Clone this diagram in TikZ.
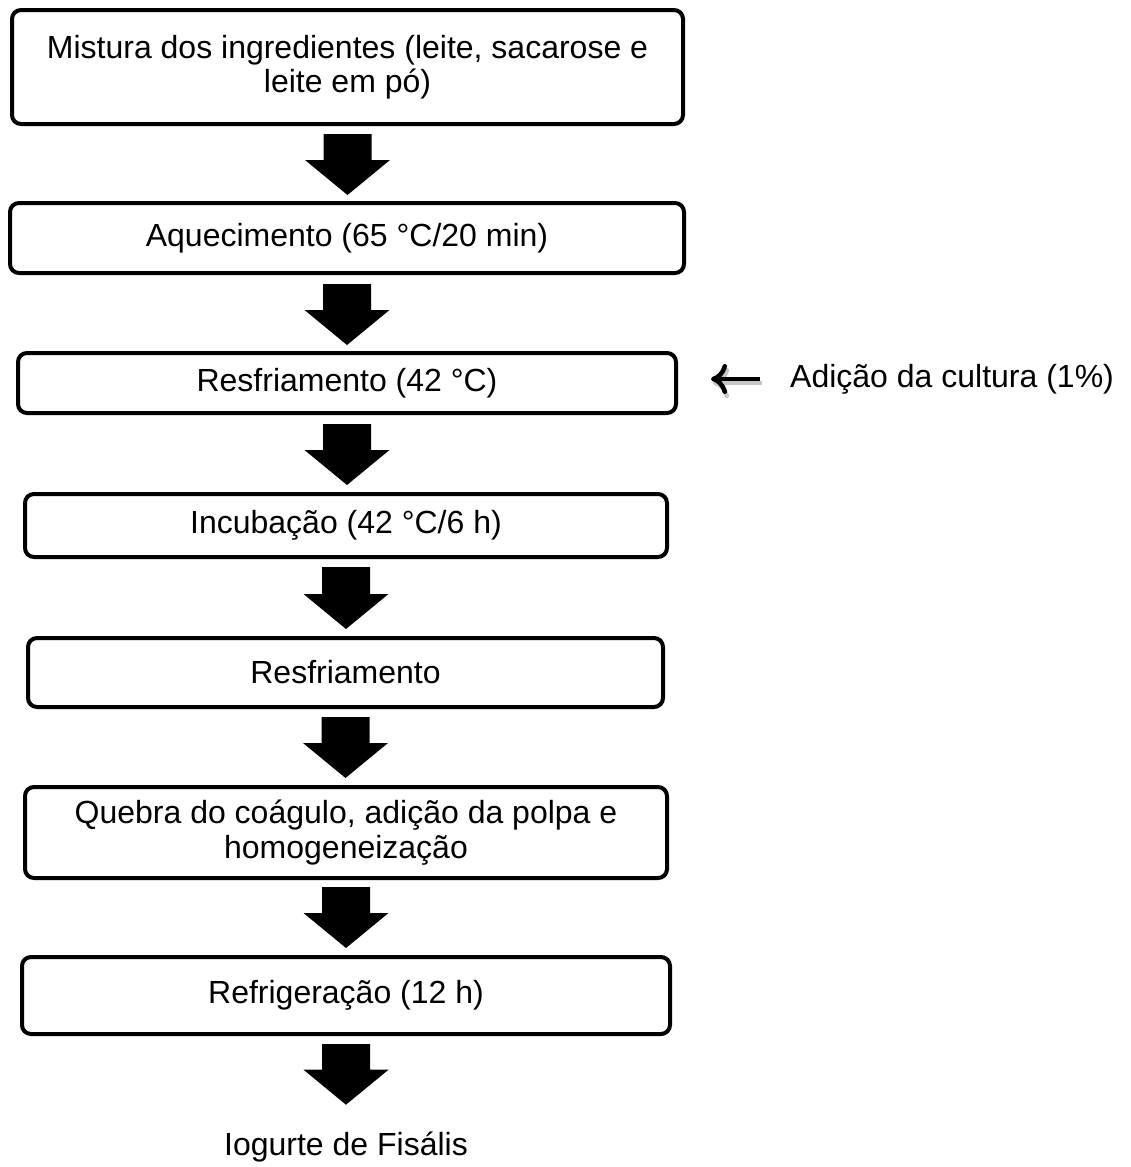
\documentclass[tikz,border=0pt]{standalone}
\usepackage{fontspec}
\setmainfont{Liberation Sans}
\usetikzlibrary{calc,arrows.meta}
\tikzset{
  txt/.style={font=\fontsize{32}{34.5}\selectfont, inner sep=0pt, align=center},
  stepbox/.style={txt, draw=black, line width=4pt, rounded corners=9pt, fill=white},
  sidearrow/.style={line width=4.5pt, -{To[length=16pt,width=30pt]}},
}
\newcommand\flowarrow[2]{%
  \fill[black] let \p1=#1, \p2=#2 in
    (\x1-24pt,\y1) -- (\x1+24pt,\y1) -- (\x1+24pt,\y2+35pt) -- (\x1+42.5pt,\y2+35pt)
    -- (\x1,\y2) -- (\x1-42.5pt,\y2+35pt) -- (\x1-24pt,\y2+35pt) -- cycle;}
\begin{document}
\begin{tikzpicture}[x=1pt,y=1pt]
\useasboundingbox (0,0) rectangle (1130,-1167);
\node[stepbox, minimum width=671pt, minimum height=114pt] (b1) at (347.5,-67)
  {Mistura dos ingredientes (leite, sacarose e\\ leite em pó)};
\node[stepbox, minimum width=674pt, minimum height=70pt] (b2) at (347,-238)
  {Aquecimento (65 °C/20 min)};
\node[stepbox, minimum width=658pt, minimum height=60pt] (b3) at (347,-383)
  {Resfriamento (42 °C)};
\node[stepbox, minimum width=642pt, minimum height=63pt] (b4) at (346,-525.5)
  {Incubação (42 °C/6 h)};
\node[stepbox, minimum width=635pt, minimum height=69pt] (b5) at (345.5,-672.5)
  {Resfriamento};
\node[stepbox, minimum width=642pt, minimum height=91pt] (b6) at (346,-832.5)
  {Quebra do coágulo, adição da polpa e\\ homogeneização};
\node[stepbox, minimum width=648pt, minimum height=77pt] (b7) at (346,-995.5)
  {Refrigeração (12 h)};
\node[txt] (fim) at (346,-1147) {Iogurte de Fisális};
\node[txt, anchor=west] (cult) at (790,-379) {Adição da cultura (1\%)};

\flowarrow{($(b1.south)+(0,-8)$)}{($(b2.north)+(0,6)$)}
\flowarrow{($(b2.south)+(0,-9)$)}{($(b3.north)+(0,6)$)}
\flowarrow{($(b3.south)+(0,-9)$)}{($(b4.north)+(0,7)$)}
\flowarrow{($(b4.south)+(0,-8)$)}{($(b5.north)+(0,7)$)}
\flowarrow{($(b5.south)+(0,-8)$)}{($(b6.north)+(0,7)$)}
\flowarrow{($(b6.south)+(0,-7)$)}{($(b7.north)+(0,7)$)}
\flowarrow{($(b7.south)+(0,-8)$)}{($(fim.north)+(0,27)$)}

\draw[sidearrow, black!22, transform canvas={shift={(2pt,-4pt)}}]
  ($(cult.west)+(-30,0)$) -- ($(b3.east)+(33,4)$);
\draw[sidearrow]
  ($(cult.west)+(-30,0)$) -- ($(b3.east)+(33,4)$);
\end{tikzpicture}
\end{document}
